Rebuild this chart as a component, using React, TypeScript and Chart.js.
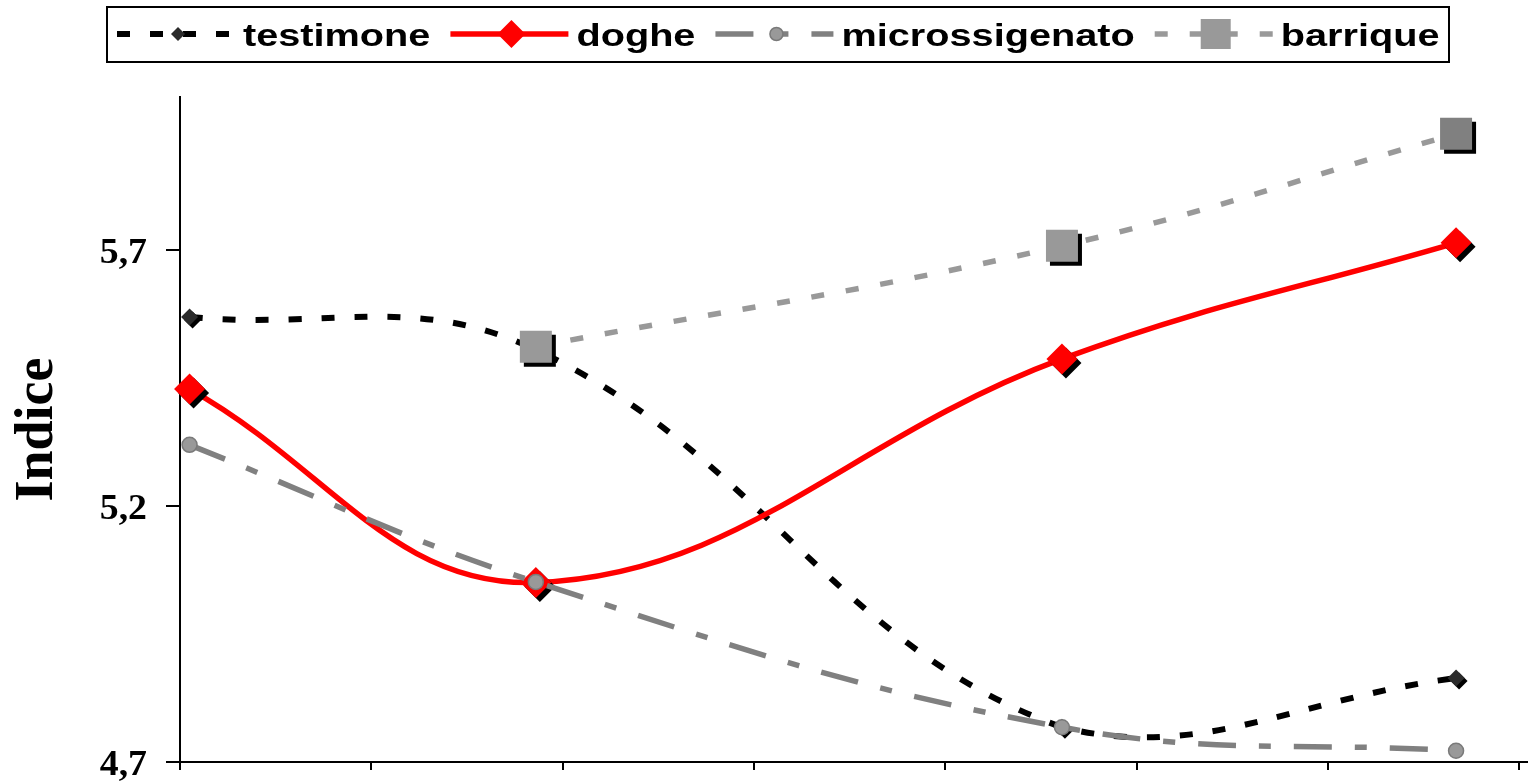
import React, { useEffect, useRef } from 'react';
import { Chart, registerables } from 'chart.js';

Chart.register(...registerables);

// ---- data ----
const xValues = [0.5, 18.6, 46.1, 66.7];
const testimone = [5.57, 5.506, 4.768, 4.864];
const doghe = [5.429, 5.051, 5.488, 5.715];
const microssigenato = [5.32, 5.052, 4.768, 4.722];
const barrique: (number | null)[] = [null, 5.512, 5.709, 5.928];
const seriesNames = ['testimone', 'doghe', 'microssigenato', 'barrique'];
const yTickValues = [4.7, 5.2, 5.7];
const yTickLabels = ['4,7', '5,2', '5,7'];
const xTickValues = [0, 10, 20, 30, 40, 50, 60, 70];
const yTitle = 'Indice';

const TEXT_SX = 1.24;

type Marker = {
  kind: 'diamond' | 'circle' | 'square';
  size: number;
  legendSize: number;
  fill: string | string[];
  stroke?: string;
  shadow: number;
};

function shapePath(ctx: CanvasRenderingContext2D, kind: string, x: number, y: number, s: number) {
  ctx.beginPath();
  if (kind === 'diamond') {
    ctx.moveTo(x, y - s);
    ctx.lineTo(x + s, y);
    ctx.lineTo(x, y + s);
    ctx.lineTo(x - s, y);
    ctx.closePath();
  } else if (kind === 'circle') {
    ctx.arc(x, y, s, 0, Math.PI * 2);
  } else {
    ctx.rect(x - s, y - s, 2 * s, 2 * s);
  }
}

function drawMarker(ctx: CanvasRenderingContext2D, m: Marker, x: number, y: number, s: number, fill: string, shadow: number) {
  if (shadow > 0) {
    shapePath(ctx, m.kind, x + shadow, y + shadow, s);
    ctx.fillStyle = '#000';
    ctx.fill();
  }
  shapePath(ctx, m.kind, x, y, s);
  ctx.fillStyle = fill;
  ctx.fill();
  if (m.stroke) {
    ctx.lineWidth = 1.5;
    ctx.strokeStyle = m.stroke;
    ctx.setLineDash([]);
    ctx.stroke();
  }
}

const markerPlugin = {
  id: 'shadowMarkers',
  afterDatasetDraw(chart: any, args: any) {
    const ds = chart.data.datasets[args.index];
    const m: Marker = ds.marker;
    if (!m) return;
    const ctx = chart.ctx;
    ctx.save();
    args.meta.data.forEach((pt: any, i: number) => {
      const fill = Array.isArray(m.fill) ? m.fill[i] : m.fill;
      drawMarker(ctx, m, pt.x, pt.y, m.size, fill, m.shadow);
    });
    ctx.restore();
  },
};

const decorPlugin = {
  id: 'decor',
  afterDraw(chart: any) {
    const ctx: CanvasRenderingContext2D = chart.ctx;
    ctx.save();
    // y tick labels
    const yScale = chart.scales.y;
    ctx.fillStyle = '#000';
    ctx.font = 'bold 35px "Liberation Serif", "Times New Roman", serif';
    ctx.textAlign = 'right';
    ctx.textBaseline = 'alphabetic';
    yTickValues.forEach((v, i) => {
      const py = yScale.getPixelForValue(v);
      ctx.save();
      ctx.translate(147, py + 12.5);
      ctx.scale(1.08, 1);
      ctx.fillText(yTickLabels[i], 0, 0);
      ctx.restore();
    });
    // y title
    ctx.save();
    ctx.font = 'bold 54px "Liberation Serif", "Times New Roman", serif';
    ctx.textAlign = 'center';
    ctx.translate(52, (yScale.top + yScale.bottom) / 2);
    ctx.rotate(-Math.PI / 2);
    ctx.fillText(yTitle, 0, 0);
    ctx.restore();

    // legend
    const boxL = 107, boxT = 7, boxR = 1449, boxB = 62;
    ctx.lineWidth = 2;
    ctx.strokeStyle = '#000';
    ctx.setLineDash([]);
    ctx.strokeRect(boxL, boxT, boxR - boxL, boxB - boxT);
    const cy = 34;
    let sx = 117;
    ctx.font = 'bold 32px "Liberation Sans", Arial, sans-serif';
    ctx.textAlign = 'left';
    chart.data.datasets.forEach((ds: any) => {
      const sampleW = 118;
      ctx.save();
      ctx.beginPath();
      ctx.strokeStyle = ds.borderColor;
      ctx.lineWidth = ds.borderWidth;
      ctx.setLineDash(ds.borderDash || []);
      ctx.lineCap = 'butt';
      ctx.moveTo(sx, cy);
      ctx.lineTo(sx + sampleW, cy);
      ctx.stroke();
      ctx.setLineDash([]);
      const m: Marker = ds.marker;
      const fill = Array.isArray(m.fill) ? m.fill[0] : m.fill;
      drawMarker(ctx, m, sx + sampleW / 2 + 2, cy, m.legendSize, fill as string, 0);
      ctx.restore();
      const tx = sx + sampleW + 8;
      const w = ctx.measureText(ds.label).width * TEXT_SX;
      ctx.save();
      ctx.fillStyle = '#000';
      ctx.translate(tx, 46);
      ctx.scale(TEXT_SX, 1);
      ctx.fillText(ds.label, 0, 0);
      ctx.restore();
      sx = tx + w + 20;
    });
    ctx.restore();
  },
};

function toPoints(arr: (number | null)[]) {
  const out: { x: number; y: number }[] = [];
  arr.forEach((v, i) => {
    if (v !== null) out.push({ x: xValues[i], y: v });
  });
  return out;
}

export default function App() {
  const ref = useRef<HTMLCanvasElement>(null);
  useEffect(() => {
    if (!ref.current) return;
    const datasets: any[] = [
      {
        label: seriesNames[0],
        data: toPoints(testimone),
        borderColor: '#000000',
        borderWidth: 6,
        borderDash: [13, 20],
        order: 4,
        marker: { kind: 'diamond', size: 8.5, legendSize: 7, fill: '#2b2b2b', shadow: 3 },
      },
      {
        label: seriesNames[1],
        data: toPoints(doghe),
        borderColor: '#ff0000',
        borderWidth: 5.5,
        borderDash: [],
        order: 3,
        marker: { kind: 'diamond', size: 15.5, legendSize: 14, fill: '#ff0000', shadow: 4 },
      },
      {
        label: seriesNames[2],
        data: toPoints(microssigenato),
        borderColor: '#808080',
        borderWidth: 5.5,
        borderDash: [38, 23, 12, 23],
        order: 2,
        marker: { kind: 'circle', size: 7.5, legendSize: 6.5, fill: '#999999', stroke: '#7a7a7a', shadow: 0 },
      },
      {
        label: seriesNames[3],
        data: toPoints(barrique),
        borderColor: '#999999',
        borderWidth: 5.5,
        borderDash: [13, 22],
        order: 1,
        marker: { kind: 'square', size: 16, legendSize: 15, fill: ['#999999', '#999999', '#808080'], shadow: 4 },
      },
    ];
    datasets.forEach((d) => {
      d.fill = false;
      d.tension = 0.4;
      d.pointRadius = 0;
      d.pointHoverRadius = 0;
      d.borderCapStyle = 'butt';
    });
    const chart = new Chart(ref.current, {
      type: 'line',
      data: { datasets },
      options: {
        animation: false,
        responsive: false,
        events: [],
        layout: { padding: { top: 97, left: 0, right: 0, bottom: 0 } },
        plugins: { legend: { display: false }, tooltip: { enabled: false } },
        scales: {
          x: {
            type: 'linear',
            min: 0,
            max: 70.46,
            afterBuildTicks: (s: any) => {
              s.ticks = xTickValues.map((v) => ({ value: v }));
            },
            afterFit: (s: any) => {
              s.height = 22;
            },
            ticks: { display: false },
            grid: { drawOnChartArea: false, drawTicks: true, tickLength: 8, color: '#000', lineWidth: 2 },
            border: { display: true, color: '#000', width: 2 },
          },
          y: {
            type: 'linear',
            min: 4.7,
            max: 6.0,
            afterBuildTicks: (s: any) => {
              s.ticks = yTickValues.map((v) => ({ value: v }));
            },
            afterFit: (s: any) => {
              s.width = 180;
            },
            ticks: { display: false },
            grid: { drawOnChartArea: false, drawTicks: true, tickLength: 14, color: '#000', lineWidth: 2 },
            border: { display: true, color: '#000', width: 2 },
          },
        },
      } as any,
      plugins: [markerPlugin, decorPlugin],
    });
    return () => chart.destroy();
  }, []);
  return (
    <div style={{ position: 'absolute', left: 0, top: 0, width: 1528, height: 784, background: '#fff' }}>
      <canvas ref={ref} width={1528} height={784} style={{ display: 'block' }} />
    </div>
  );
}
